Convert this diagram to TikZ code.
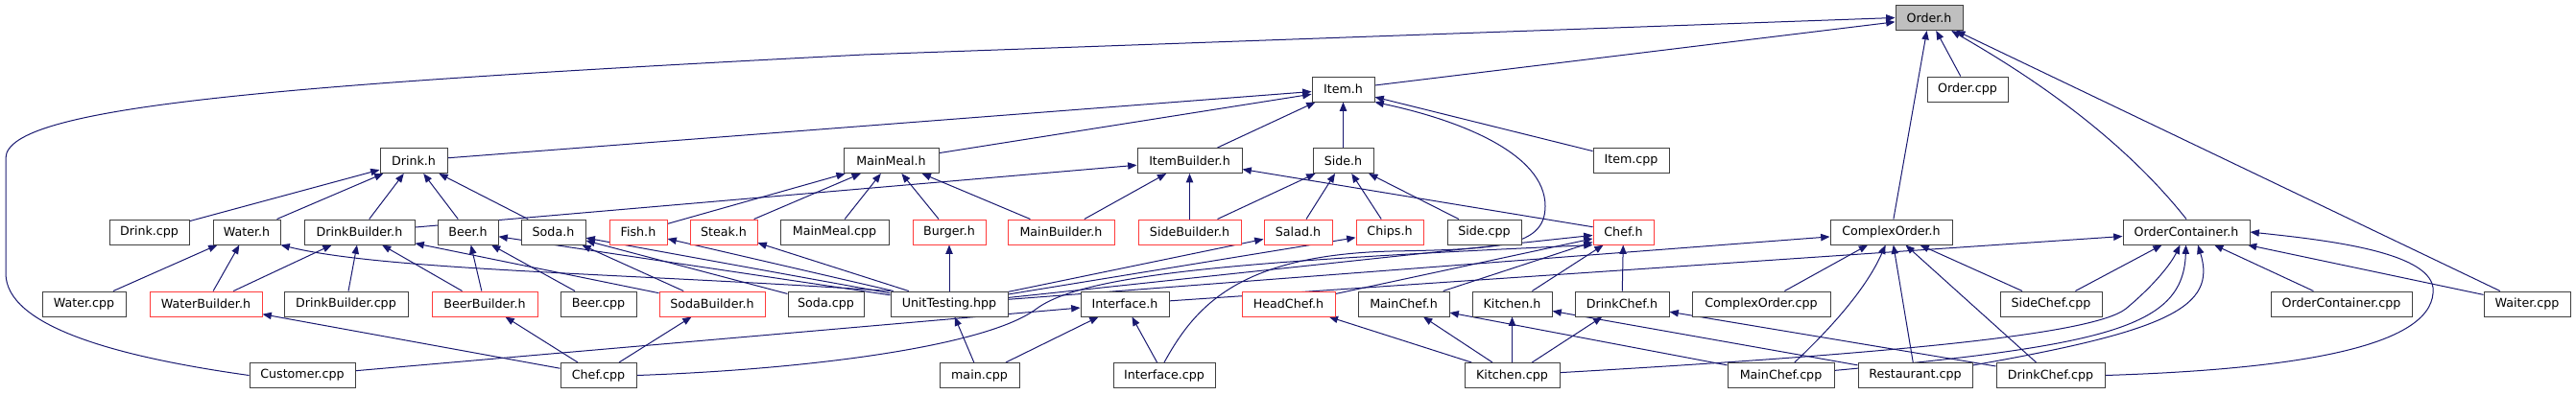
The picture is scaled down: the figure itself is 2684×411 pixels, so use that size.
\documentclass[tikz,border=0pt]{standalone}
\usepackage{fontspec}
\setmainfont{DejaVu Sans}
\usetikzlibrary{arrows.meta,backgrounds,calc}
\definecolor{edgeblue}{HTML}{191970}
\definecolor{boxgray}{HTML}{404040}
\definecolor{truncred}{HTML}{FF3C3C}
\definecolor{rootfill}{HTML}{BFBFBF}
\begin{document}
\begin{tikzpicture}[x=0.75pt,y=-0.75pt,
  nd/.style={draw=boxgray,line width=0.75pt,fill=white,inner sep=0pt,minimum height=19.5pt,font=\fontsize{9.5}{11}\selectfont,text=black},
  rd/.style={nd,draw=truncred},
  bw/.style={minimum width=#1*0.75pt},
  edge/.style={draw=edgeblue,line width=0.75pt,-{Triangle[length=7pt,width=5.5pt]}}]
\path[use as bounding box] (0,0) rectangle (2684,411);
% row 0 / 1
\node[nd,bw=70,fill=rootfill] (order) at (2010,18.5) {Order.h};
\node[nd,bw=65] (item) at (1399.5,93) {Item.h};
\node[nd,bw=84] (ordercpp) at (2050,93) {Order.cpp};
% row 2
\node[nd,bw=70] (drinkh) at (431,167.5) {Drink.h};
\node[nd,bw=99] (mainmealh) at (928.5,167.5) {MainMeal.h};
\node[nd,bw=109] (itembuilderh) at (1239.5,167.5) {ItemBuilder.h};
\node[nd,bw=63] (sideh) at (1399.5,167.5) {Side.h};
\node[nd,bw=79] (itemcpp) at (1699.5,167.5) {Item.cpp};
% row 3
\node[nd,bw=83] (drinkcpp) at (155.5,242) {Drink.cpp};
\node[nd,bw=70] (waterh) at (257,242) {Water.h};
\node[nd,bw=115] (drinkbuilderh) at (374.5,242) {DrinkBuilder.h};
\node[nd,bw=63] (beerh) at (487.5,242) {Beer.h};
\node[nd,bw=67] (sodah) at (576.5,242) {Soda.h};
\node[rd,bw=60] (fishh) at (665,242) {Fish.h};
\node[rd,bw=70] (steakh) at (754,242) {Steak.h};
\node[nd,bw=113] (mainmealcpp) at (869.5,242) {MainMeal.cpp};
\node[rd,bw=76] (burgerh) at (989,242) {Burger.h};
\node[rd,bw=111] (mainbuilderh) at (1105.5,242) {MainBuilder.h};
\node[rd,bw=107] (sidebuilderh) at (1239.5,242) {SideBuilder.h};
\node[rd,bw=71] (saladh) at (1352.5,242) {Salad.h};
\node[rd,bw=70] (chipsh) at (1448,242) {Chips.h};
\node[nd,bw=77] (sidecpp) at (1546.5,242) {Side.cpp};
\node[rd,bw=63] (chefh) at (1691.5,242) {Chef.h};
\node[nd,bw=127] (complexorderh) at (1970.5,242) {ComplexOrder.h};
\node[nd,bw=132] (ordercontainerh) at (2278,242) {OrderContainer.h};
% row 4
\node[nd,bw=87] (watercpp) at (87.5,317) {Water.cpp};
\node[rd,bw=117] (waterbuilderh) at (214.5,317) {WaterBuilder.h};
\node[nd,bw=129] (drinkbuildercpp) at (360.5,317) {DrinkBuilder.cpp};
\node[rd,bw=110] (beerbuilderh) at (505,317) {BeerBuilder.h};
\node[nd,bw=79] (beercpp) at (623.5,317) {Beer.cpp};
\node[rd,bw=110] (sodabuilderh) at (742,317) {SodaBuilder.h};
\node[nd,bw=79] (sodacpp) at (860.5,317) {Soda.cpp};
\node[nd,bw=122] (unittest) at (989,317) {UnitTesting.hpp};
\node[nd,bw=92] (interfaceh) at (1172,317) {Interface.h};
\node[rd,bw=97] (headchefh) at (1342.5,317) {HeadChef.h};
\node[nd,bw=95] (mainchefh) at (1462.5,317) {MainChef.h};
\node[nd,bw=83] (kitchenh) at (1575.5,317) {Kitchen.h};
\node[nd,bw=98] (drinkchefh) at (1690,317) {DrinkChef.h};
\node[nd,bw=144] (complexordercpp) at (1835,317) {ComplexOrder.cpp};
\node[nd,bw=106] (sidechefcpp) at (2137,317) {SideChef.cpp};
\node[nd,bw=147] (ordercontainercpp) at (2439.5,317) {OrderContainer.cpp};
\node[nd,bw=90] (waitercpp) at (2633,317) {Waiter.cpp};
% row 5
\node[nd,bw=110] (customercpp) at (315,391.5) {Customer.cpp};
\node[nd,bw=79] (chefcpp) at (623.5,391.5) {Chef.cpp};
\node[nd,bw=83] (maincpp) at (1020.5,391.5) {main.cpp};
\node[nd,bw=106] (interfacecpp) at (1213,391.5) {Interface.cpp};
\node[nd,bw=99] (kitchencpp) at (1575.5,391.5) {Kitchen.cpp};
\node[nd,bw=111] (mainchefcpp) at (1855.5,391.5) {MainChef.cpp};
\node[nd,bw=119] (restaurantcpp) at (1995.5,391.5) {Restaurant.cpp};
\node[nd,bw=113] (drinkchefcpp) at (2136.5,391.5) {DrinkChef.cpp};

\begin{pgfonlayer}{background}
% into Order.h
\draw[edge] (item) -- (order);
\draw[edge] (ordercpp) -- (order);
\draw[edge] (complexorderh) -- (order);
\draw[edge] (ordercontainerh.north) .. controls (2200,130) and (2090,65) .. (order);
\draw[edge] (waitercpp) -- (order);
\draw[edge] (customercpp.west) .. controls (120,372) and (6,340) .. (6,285) -- (6,165) .. controls (6,110) and (300,88) .. (900,57) -- (order.west);
% into Item.h
\draw[edge] (drinkh) -- (item);
\draw[edge] (mainmealh) -- (item);
\draw[edge] (itembuilderh) -- (item);
\draw[edge] (sideh) -- (item);
\draw[edge] (itemcpp) -- (item);
\draw[edge] (interfacecpp.north) .. controls (1245,320) and (1290,266) .. (1450,262) .. controls (1560,260) and (1610,258) .. (1610,215) .. controls (1610,160) and (1520,125) .. (item.south east);
% into Drink.h
\draw[edge] (drinkcpp) -- (drinkh);
\draw[edge] (waterh) -- (drinkh);
\draw[edge] (drinkbuilderh) -- (drinkh);
\draw[edge] (beerh) -- (drinkh);
\draw[edge] (sodah) -- (drinkh);
% into MainMeal.h
\draw[edge] (fishh) -- (mainmealh);
\draw[edge] (steakh) -- (mainmealh);
\draw[edge] (mainmealcpp) -- (mainmealh);
\draw[edge] (burgerh) -- (mainmealh);
\draw[edge] (mainbuilderh) -- (mainmealh);
% into ItemBuilder.h
\draw[edge] (drinkbuilderh) -- (itembuilderh);
\draw[edge] (mainbuilderh) -- (itembuilderh);
\draw[edge] (sidebuilderh) -- (itembuilderh);
\draw[edge] (chefh) -- (itembuilderh);
% into Side.h
\draw[edge] (sidebuilderh) -- (sideh);
\draw[edge] (saladh) -- (sideh);
\draw[edge] (chipsh) -- (sideh);
\draw[edge] (sidecpp) -- (sideh);
% into Water.h
\draw[edge] (watercpp) -- (waterh);
\draw[edge] (waterbuilderh) -- (waterh);
\draw[edge] (unittest.north west) .. controls (650,285) and (400,282) .. (waterh.south east);
% into DrinkBuilder.h
\draw[edge] (waterbuilderh) -- (drinkbuilderh);
\draw[edge] (drinkbuildercpp) -- (drinkbuilderh);
\draw[edge] (beerbuilderh) -- (drinkbuilderh);
\draw[edge] (sodabuilderh) -- (drinkbuilderh);
% into Beer.h / Soda.h
\draw[edge] (beerbuilderh) -- (beerh);
\draw[edge] (beercpp) -- (beerh);
\draw[edge] (unittest) -- (beerh);
\draw[edge] (sodabuilderh) -- (sodah);
\draw[edge] (sodacpp) -- (sodah);
\draw[edge] (unittest) -- (sodah);
% from UnitTesting.hpp
\draw[edge] (unittest) -- (fishh);
\draw[edge] (unittest) -- (steakh);
\draw[edge] (unittest) -- (burgerh);
\draw[edge] (unittest) -- (saladh);
\draw[edge] (unittest) -- (chipsh);
\draw[edge] (unittest) -- (chefh);
\draw[edge] (unittest) -- (complexorderh);
% Interface.h
\draw[edge] (interfaceh) -- (ordercontainerh);
% into Chef.h
\draw[edge] (headchefh) -- (chefh);
\draw[edge] (mainchefh) -- (chefh);
\draw[edge] (kitchenh) -- (chefh);
\draw[edge] (drinkchefh) -- (chefh);
\draw[edge] (chefcpp.east) .. controls (850,385) and (1030,360) .. (1080,322) .. controls (1130,285) and (1300,272) .. (chefh.south west);
% Chef.cpp
\draw[edge] (chefcpp) -- (waterbuilderh);
\draw[edge] (chefcpp) -- (beerbuilderh);
\draw[edge] (chefcpp) -- (sodabuilderh);
% Customer.cpp, main.cpp, Interface.cpp
\draw[edge] (customercpp) -- (interfaceh);
\draw[edge] (maincpp) -- (unittest);
\draw[edge] (maincpp) -- (interfaceh);
\draw[edge] (interfacecpp) -- (interfaceh);
% Kitchen.cpp
\draw[edge] (kitchencpp) -- (headchefh);
\draw[edge] (kitchencpp) -- (mainchefh);
\draw[edge] (kitchencpp) -- (kitchenh);
\draw[edge] (kitchencpp) -- (drinkchefh);
\draw[edge] (kitchencpp) .. controls (1950,370) and (2180,350) .. (2215,322) .. controls (2245,297) and (2262,275) .. (ordercontainerh);
% MainChef.cpp
\draw[edge] (mainchefcpp) -- (mainchefh);
\draw[edge] (mainchefcpp) .. controls (1910,340) and (1945,300) .. (complexorderh);
\draw[edge] (mainchefcpp) .. controls (2200,360) and (2275,340) .. (ordercontainerh);
% Restaurant.cpp
\draw[edge] (restaurantcpp) -- (kitchenh);
\draw[edge] (restaurantcpp) -- (complexorderh);
\draw[edge] (restaurantcpp) .. controls (2260,345) and (2310,320) .. ($(ordercontainerh.south)+(12,0)$);
% DrinkChef.cpp
\draw[edge] (drinkchefcpp) -- (drinkchefh);
\draw[edge] (drinkchefcpp) -- (complexorderh);
\draw[edge] (drinkchefcpp.east) .. controls (2400,385) and (2540,360) .. (2535,300) .. controls (2530,262) and (2420,250) .. (ordercontainerh.east);
% others
\draw[edge] (complexordercpp) -- (complexorderh);
\draw[edge] (sidechefcpp) -- (complexorderh);
\draw[edge] (sidechefcpp) -- (ordercontainerh);
\draw[edge] (ordercontainercpp) -- (ordercontainerh);
\draw[edge] (waitercpp) -- (ordercontainerh);
\end{pgfonlayer}
\end{tikzpicture}
\end{document}
